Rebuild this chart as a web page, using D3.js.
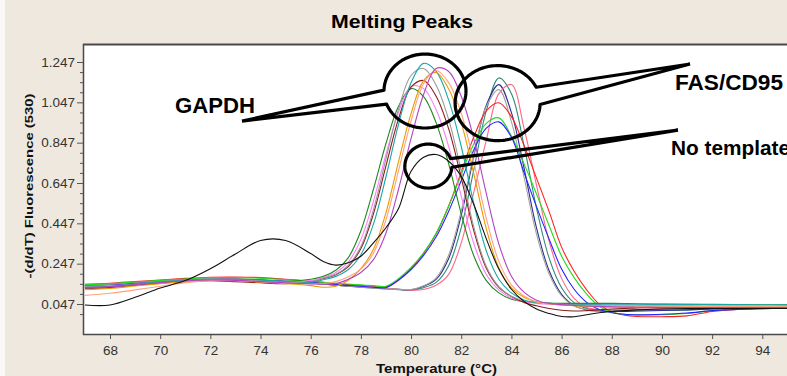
<!DOCTYPE html>
<html><head><meta charset="utf-8">
<script src="https://cdn.jsdelivr.net/npm/d3@7/dist/d3.min.js"></script>
<style>
html,body{margin:0;padding:0;background:#EEE8DF;}
svg{display:block;}
text{font-family:"Liberation Sans", Arial, sans-serif;}
</style></head><body>
<svg id="chart" width="787" height="376"></svg>
<script>
// ---------------- DATA ----------------
const temperatures = [67,68,69,70,71,72,73,74,75,76,76.5,77,77.5,78,78.5,79,79.5,80,80.5,81,81.5,82,82.5,83,83.5,84,84.5,85,85.5,86,86.5,87,87.5,88,88.5,89,90,91,92,93,94,95];

const yTickValues = [0.047, 0.247, 0.447, 0.647, 0.847, 1.047, 1.247];
const xTickValues = [68, 70, 72, 74, 76, 78, 80, 82, 84, 86, 88, 90, 92, 94];

const chartTitle = "Melting Peaks";
const xAxisTitle = "Temperature (°C)";
const yAxisTitle = "-(d/dT) Fluorescence (530)";

// GAPDH product curves
const gapdhGreen  = [.128,.132,.142,.152,.162,.168,.166,.162,.158,.170,.184,.214,.277,.410,.616,.843,1.028,1.115,1.075,.945,.742,.494,.286,.163,.102,.071,.060,.055,.052,.050,.050,.050,.050,.050,.049,.048,.047,.046,.045,.044,.043,.043];
const gapdhPink   = [.135,.138,.146,.156,.165,.170,.168,.162,.156,.163,.179,.203,.256,.367,.556,.789,.998,1.125,1.115,1.010,.827,.582,.347,.193,.116,.077,.058,.050,.046,.044,.043,.043,.042,.041,.040,.040,.040,.039,.038,.037,.037,.036];
const gapdhBrown  = [.125,.128,.140,.150,.158,.162,.158,.152,.148,.157,.173,.192,.233,.322,.494,.732,.965,1.122,1.155,1.077,.915,.673,.411,.224,.129,.084,.055,.038,.025,.016,.012,.014,.018,.022,.025,.028,.030,.032,.033,.034,.034,.035];
const gapdhGray   = [.132,.135,.144,.154,.163,.167,.165,.160,.155,.157,.175,.194,.239,.332,.514,.767,1.013,1.180,1.215,1.132,.961,.707,.429,.233,.133,.085,.062,.054,.050,.046,.044,.042,.040,.038,.037,.036,.035,.035,.034,.034,.033,.033];
const gapdhTeal   = [.130,.134,.146,.157,.166,.171,.170,.166,.160,.155,.167,.184,.218,.291,.443,.678,.938,1.144,1.240,1.200,1.058,.828,.546,.310,.170,.102,.067,.055,.050,.047,.046,.046,.046,.046,.046,.046,.045,.045,.044,.044,.043,.043];
const gapdhOrange = [.118,.124,.136,.148,.158,.164,.162,.156,.148,.138,.130,.135,.165,.222,.318,.500,.753,.991,1.155,1.195,1.113,.945,.693,.420,.226,.127,.080,.058,.048,.042,.038,.035,.033,.031,.030,.030,.030,.030,.030,.030,.030,.030];
const gapdhSalmon = [.090,.100,.117,.135,.153,.163,.163,.158,.152,.148,.148,.158,.182,.220,.299,.464,.708,.954,1.140,1.205,1.145,.993,.751,.471,.257,.142,.087,.057,.047,.043,.040,.039,.038,.037,.037,.036,.036,.035,.035,.035,.035,.035];
const gapdhViolet = [.128,.133,.143,.153,.162,.166,.164,.158,.152,.147,.145,.148,.170,.203,.267,.399,.616,.868,1.086,1.215,1.200,1.077,.867,.594,.344,.185,.106,.066,.050,.044,.040,.037,.035,.033,.032,.031,.030,.030,.030,.030,.030,.030];

// FAS/CD95 product curves
const fasTeal  = [.140,.143,.150,.158,.165,.170,.170,.166,.160,.153,.147,.140,.135,.130,.126,.122,.118,.115,.128,.154,.237,.426,.712,1.006,1.168,1.090,.833,.523,.276,.128,.054,.025,.018,.015,.014,.014,.015,.018,.022,.025,.027,.028];
const fasNavy  = [.138,.142,.150,.157,.163,.167,.167,.164,.158,.152,.146,.140,.136,.132,.128,.124,.120,.117,.135,.169,.273,.487,.778,1.033,1.135,.996,.723,.424,.213,.095,.039,.018,.012,.010,.010,.012,.015,.018,.022,.025,.026,.027];
const fasPink  = [.142,.146,.153,.160,.167,.172,.172,.167,.160,.153,.148,.143,.138,.133,.128,.124,.120,.116,.119,.140,.194,.350,.600,.860,1.090,1.135,.921,.636,.359,.174,.075,.030,.020,.018,.018,.020,.024,.028,.030,.032,.033,.034];
const fasGray  = [.140,.144,.150,.158,.164,.168,.168,.164,.158,.152,.146,.140,.135,.130,.126,.122,.120,.119,.137,.177,.290,.509,.790,1.026,1.110,.950,.678,.394,.197,.088,.037,.020,.015,.014,.015,.017,.020,.024,.027,.029,.030,.031];
const fasRed   = [.145,.150,.158,.166,.174,.180,.181,.178,.170,.160,.154,.148,.144,.140,.135,.132,.165,.222,.298,.395,.533,.702,.875,1.005,1.045,.976,.834,.671,.506,.329,.209,.117,.046,.008,-.008,-.015,-.016,-.012,.010,.020,.024,.026];
const fasGreen = [.143,.148,.156,.164,.171,.177,.178,.175,.168,.160,.155,.150,.146,.142,.138,.135,.173,.228,.301,.398,.532,.689,.841,.943,.970,.880,.743,.593,.436,.284,.178,.096,.036,.006,-.004,-.008,-.006,.000,.015,.022,.025,.027];
const fasBlue  = [.136,.140,.148,.156,.163,.168,.169,.166,.160,.153,.148,.143,.139,.135,.130,.128,.166,.218,.288,.380,.507,.659,.811,.919,.950,.874,.700,.530,.370,.220,.120,.055,.020,.004,-.004,-.006,-.004,.002,.014,.020,.024,.026];

// No template control
const noTemplate = [.042,.042,.080,.126,.163,.222,.295,.362,.362,.297,.258,.240,.252,.284,.350,.425,.520,.705,.775,.788,.755,.680,.540,.370,.220,.120,.060,.022,.000,-.015,-.016,-.006,.004,.010,.014,.018,.022,.024,.025,.025,.025,.025];

const seriesValues = [fasTeal, fasNavy, fasPink, fasGray, fasRed, fasGreen, fasBlue,
  gapdhGreen, gapdhPink, gapdhBrown, gapdhGray, gapdhTeal, gapdhOrange, gapdhSalmon, gapdhViolet, noTemplate];
const seriesColors = ["#2e8b74","#2b2b96","#ff6688","#a4a49c","#ff2222","#1fdc1f","#2424ff",
  "#1c8a1c","#ff7cff","#8c1c1c","#9a9a9a","#1aa6a6","#e89b00","#ffa27e","#b144c4","#111111"];

// Callout annotations (in data units)
const calloutLabels = ["GAPDH", "FAS/CD95", "No template"];
const labelT = [70.59, 90.52, 90.36];
const labelV = [0.994, 1.108, 0.786];
const labelSize = [22, 22, 19.5];
const labelLen = [80, 108, 119];
const ellipseT = [80.555, 83.45, 80.69];
const ellipseV = [1.103, 1.043, 0.731];
const ellipseRT = [1.634, 1.694, 0.937];
const ellipseRV = [0.1834, 0.186, 0.109];
const tipT = [73.26, 91.12, 90.64];
const tipV = [0.954, 1.237, 0.909];
const arcFrom = [181.5, 2, 3];
const arcTo = [519.4, 335, 340];

// ---------------- CHART ----------------
const W = 787, H = 376;
const svg = d3.select("#chart");
const plotL = 83, plotT = 44, plotB = 334, plotR = 790;

const x = d3.scaleLinear().domain([68, 94]).range([110, 762.3]);
const y = d3.scaleLinear().domain([0.047, 1.247]).range([304, 62]);

// background
svg.append("rect").attr("x",0).attr("y",0).attr("width",W).attr("height",H).attr("fill","#EEE8DF");
svg.append("rect").attr("x",0).attr("y",0).attr("width",5).attr("height",H).attr("fill","#FAF8F5");

// title
svg.append("text").attr("x", 402).attr("y", 28).attr("text-anchor","middle")
  .attr("font-family",'"DejaVu Sans", Verdana, sans-serif')
  .attr("font-size", 17.5).attr("font-weight","bold").attr("fill","#000")
  .attr("textLength", 142).attr("lengthAdjust","spacingAndGlyphs").text(chartTitle);

// plot area
svg.append("rect").attr("x",plotL).attr("y",plotT).attr("width",plotR-plotL).attr("height",plotB-plotT).attr("fill","#fff");

svg.append("defs").append("clipPath").attr("id","clip")
  .append("rect").attr("x",plotL+1).attr("y",plotT+1).attr("width",plotR-plotL).attr("height",plotB-plotT-2);

const g = svg.append("g").attr("clip-path","url(#clip)");
const line = d3.line().x((d,i)=>x(temperatures[i])).y(d=>y(d)).curve(d3.curveCatmullRom.alpha(0.5));

seriesValues.forEach((vals, k) => {
  g.append("path").datum(vals).attr("d", line).attr("fill","none")
    .attr("stroke", seriesColors[k]).attr("stroke-width", 1.1);
});

// callouts
const ann = svg.append("g");
calloutLabels.forEach((lab, k) => {
  const cx = x(ellipseT[k]), cy = y(ellipseV[k]);
  const rx = x(ellipseT[k] + ellipseRT[k]) - cx;
  const ry = cy - y(ellipseV[k] + ellipseRV[k]);
  const pts = [[x(tipT[k]), y(tipV[k])]];
  const steps = 120;
  for (let s = 0; s <= steps; s++) {
    const a = (arcFrom[k] + (arcTo[k] - arcFrom[k]) * s / steps) * Math.PI / 180;
    pts.push([cx + rx * Math.cos(a), cy + ry * Math.sin(a)]);
  }
  pts.push([x(tipT[k]), y(tipV[k])]);
  ann.append("path").attr("d", d3.line()(pts)).attr("fill","none")
    .attr("stroke","#000").attr("stroke-width",3.2).attr("stroke-linejoin","round");
  ann.append("text").attr("x", x(labelT[k])).attr("y", y(labelV[k]))
    .attr("font-size", labelSize[k]).attr("font-weight","bold").attr("fill","#000")
    .attr("textLength", labelLen[k]).attr("lengthAdjust","spacingAndGlyphs").text(lab);
});

// axes
const yMinor = d3.range(-0.003, 1.25, 0.05).filter(v => !yTickValues.some(t => Math.abs(t - v) < 1e-6));
const yMinorAxis = d3.axisLeft(y).tickValues(yMinor).tickSize(3).tickFormat("");
const yAxis = d3.axisLeft(y).tickValues(yTickValues).tickSize(6).tickPadding(2).tickFormat(d3.format(".3f"));
const xAxis = d3.axisBottom(x).tickValues(xTickValues).tickSize(5).tickPadding(6).tickFormat(d3.format("d"));

const gy2 = svg.append("g").attr("transform",`translate(${plotL},0)`).call(yMinorAxis);
const gy = svg.append("g").attr("transform",`translate(${plotL},0)`).call(yAxis);
const gx = svg.append("g").attr("transform",`translate(0,${plotB})`).call(xAxis);
[gy, gy2, gx].forEach(a => {
  a.select(".domain").remove();
  a.selectAll(".tick line").attr("stroke","#555");
  a.selectAll(".tick text").attr("font-size", 13.5).attr("fill","#333")
    .attr("font-family",'"Liberation Sans", Arial, sans-serif');
});

// frame
svg.append("line").attr("x1",plotL).attr("x2",plotR).attr("y1",plotT+0.5).attr("y2",plotT+0.5).attr("stroke","#4a4a4a").attr("stroke-width",2);
svg.append("line").attr("x1",plotL+0.5).attr("x2",plotL+0.5).attr("y1",plotT).attr("y2",plotB+1).attr("stroke","#4a4a4a").attr("stroke-width",1.5);
svg.append("line").attr("x1",plotL).attr("x2",plotR).attr("y1",plotB+0.5).attr("y2",plotB+0.5).attr("stroke","#4a4a4a").attr("stroke-width",1.5);

// axis titles
svg.append("text").attr("x", 436.5).attr("y", 373).attr("text-anchor","middle")
  .attr("font-family",'"DejaVu Sans", Verdana, sans-serif')
  .attr("font-size", 12.5).attr("font-weight","bold").attr("fill","#111")
  .attr("textLength", 121).attr("lengthAdjust","spacingAndGlyphs").text(xAxisTitle);
svg.append("text").attr("transform","translate(32.5,186) rotate(-90)").attr("text-anchor","middle")
  .attr("font-family",'"DejaVu Sans", Verdana, sans-serif')
  .attr("font-size", 11.5).attr("font-weight","bold").attr("fill","#111")
  .attr("textLength", 185).attr("lengthAdjust","spacingAndGlyphs").text(yAxisTitle);
</script>
</body></html>
